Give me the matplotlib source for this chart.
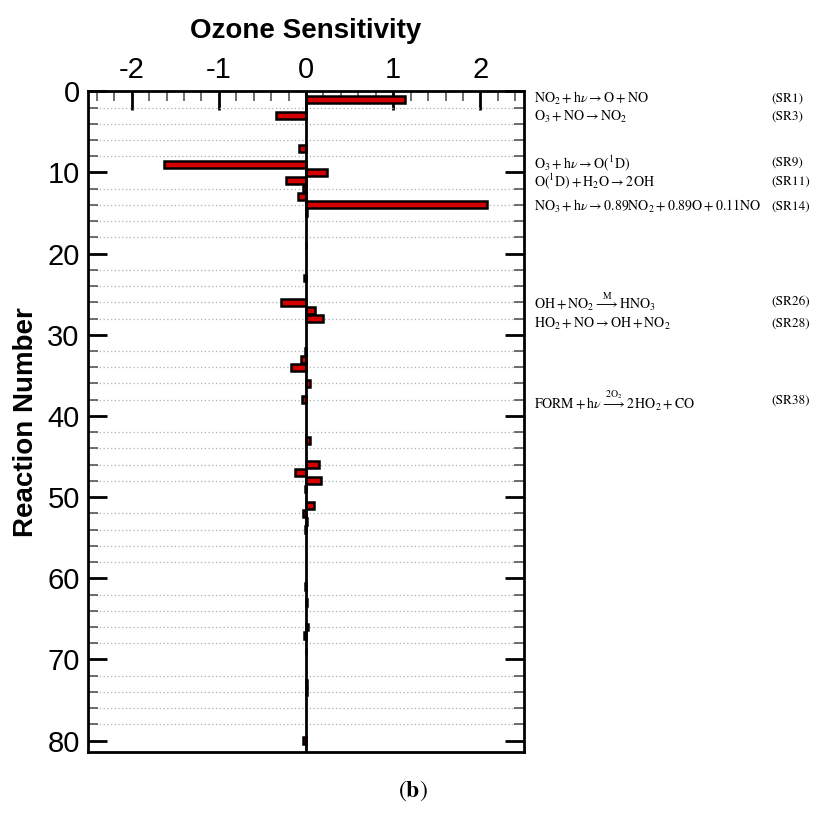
"""Ozone sensitivity per reaction (panel b), horizontal bars with reaction labels."""
import matplotlib
matplotlib.use("Agg")
import matplotlib.pyplot as plt
import matplotlib.transforms as mtransforms
import numpy as np

# reactions with a visible sensitivity (all others are ~0)
reactions = [1, 3, 7, 9, 10, 11, 12, 13, 14, 15, 19, 23, 26, 27, 28, 32, 33, 34,
             36, 38, 43, 46, 47, 48, 49, 51, 52, 53, 54, 61, 63, 66, 67, 69, 73, 74, 80]
sensitivity = [1.14, -0.34, -0.08, -1.63, 0.24, -0.23, -0.03, -0.09, 2.07, 0.01, 0.005,
               -0.02, -0.29, 0.10, 0.20, -0.01, -0.06, -0.17, 0.05, -0.05, 0.04, 0.15,
               -0.13, 0.17, -0.01, 0.09, -0.04, 0.01, -0.01, -0.01, 0.01, 0.02, -0.02,
               0.005, 0.01, 0.01, -0.04]

# annotated reactions: label y (reaction number), equation, id
eq_y = [0.9, 3.2, 8.8, 11.1, 14.2, 25.9, 28.7, 38.1]
eq_text = [
    r"$\mathrm{NO_2} + \mathrm{h}\nu \rightarrow \mathrm{O} + \mathrm{NO}$",
    r"$\mathrm{O_3} + \mathrm{NO} \rightarrow \mathrm{NO_2}$",
    r"$\mathrm{O_3} + \mathrm{h}\nu \rightarrow \mathrm{O(^1D)}$",
    r"$\mathrm{O(^1D)} + \mathrm{H_2O} \rightarrow 2\,\mathrm{OH}$",
    r"$\mathrm{NO_3} + \mathrm{h}\nu \rightarrow 0.89\mathrm{NO_2} + 0.89\mathrm{O} + 0.11\mathrm{NO}$",
    r"$\mathrm{OH} + \mathrm{NO_2} \overset{\mathrm{M}}{\longrightarrow} \mathrm{HNO_3}$",
    r"$\mathrm{HO_2} + \mathrm{NO} \rightarrow \mathrm{OH} + \mathrm{NO_2}$",
    r"$\mathrm{FORM} + \mathrm{h}\nu \overset{\mathrm{2O_2}}{\longrightarrow} 2\,\mathrm{HO_2} + \mathrm{CO}$",
]
eq_id = ["(SR1)", "(SR3)", "(SR9)", "(SR11)", "(SR14)", "(SR26)", "(SR28)", "(SR38)"]

plt.rcParams["font.family"] = ["Liberation Sans", "DejaVu Sans"]
plt.rcParams["mathtext.fontset"] = "stix"

fig = plt.figure(figsize=(8.15, 8.3), dpi=100)
ax = fig.add_axes([0.108, 0.094, 0.535, 0.796])

ax.barh(reactions, sensitivity, height=0.85, color="#d40000",
        edgecolor="black", linewidth=1.8, zorder=3)
ax.axvline(0, color="black", lw=2, zorder=4)

ax.set_xlim(-2.5, 2.5)
ax.set_ylim(81.4, 0)

# x axis on top, no ticks on the bottom
ax.xaxis.set_ticks_position("top")
ax.xaxis.set_label_position("top")
ax.set_xticks([-2, -1, 0, 1, 2])
ax.set_xticklabels(["-2", "-1", "0", "1", "2"])
ax.set_xticks(np.arange(-2.4, 2.41, 0.2), minor=True)
ax.set_yticks(np.arange(0, 81, 10))
ax.set_yticks(np.arange(0, 81, 2), minor=True)
ax.tick_params(axis="both", which="major", direction="in", length=14, width=2,
               labelsize=21, color="black")
ax.tick_params(axis="both", which="minor", direction="in", length=7, width=1.2,
               color="#555555")
ax.tick_params(axis="x", which="both", top=True, bottom=False, pad=5)
ax.tick_params(axis="y", which="both", left=True, right=True, pad=6)
for s in ax.spines.values():
    s.set_linewidth(2)

ax.grid(axis="y", which="minor", ls=(0, (1, 2)), color="#b0b0b0", lw=0.9, zorder=0)
ax.set_axisbelow(True)

ax.set_xlabel("Ozone Sensitivity", fontsize=20, fontweight="bold", labelpad=13)
ax.set_ylabel("Reaction Number", fontsize=20, fontweight="bold", labelpad=6)

# reaction equations to the right of the axes
trans = mtransforms.blended_transform_factory(fig.transFigure, ax.transData)
for y, eq, rid in zip(eq_y, eq_text, eq_id):
    ax.text(0.655, y, eq, transform=trans, fontsize=10, va="center", ha="left",
            clip_on=False)
    ax.text(0.946, y, rid, transform=trans, fontsize=9.5, va="center", ha="left",
            family="STIXGeneral", clip_on=False)

fig.text(0.506, 0.047, r"($\mathbf{b}$)", fontsize=17, ha="center", va="center",
         family="STIXGeneral")

fig.savefig("out.png", dpi=100)
